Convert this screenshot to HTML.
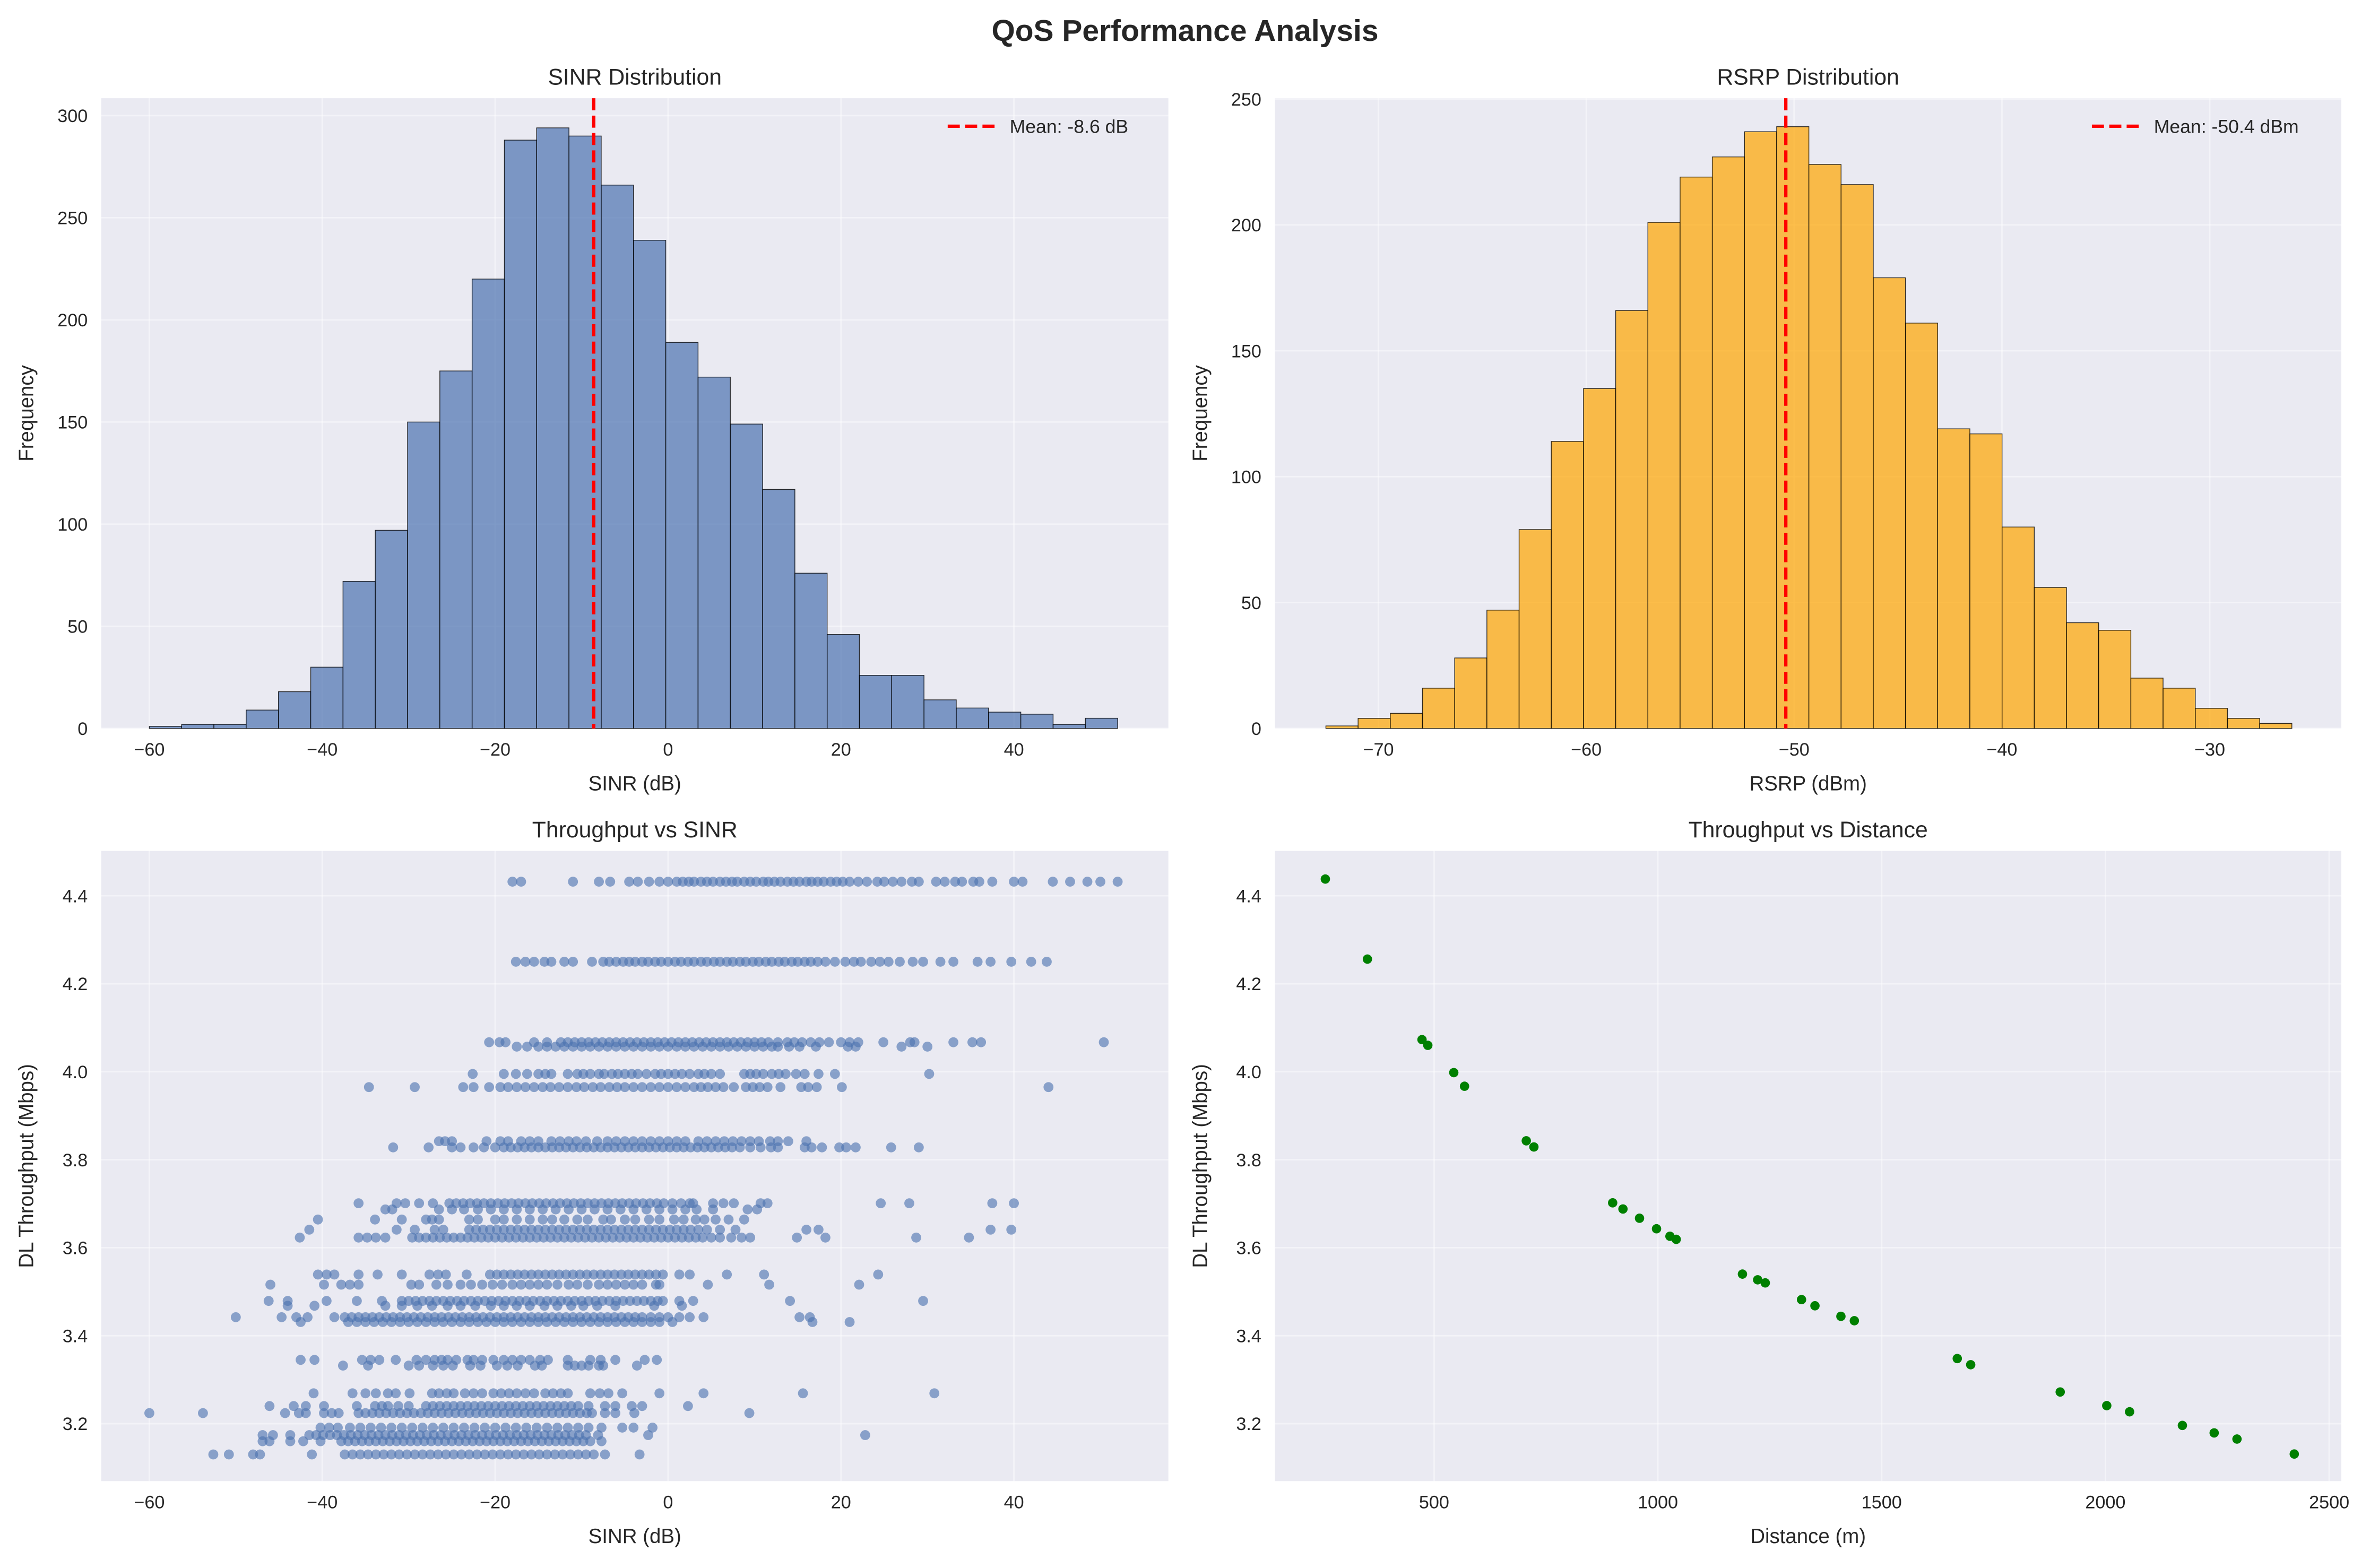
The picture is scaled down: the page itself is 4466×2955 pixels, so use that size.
<!DOCTYPE html>
<html><head><meta charset="utf-8"><style>
html,body{margin:0;padding:0;background:#fff}
svg{display:block;font-family:"Liberation Sans",Arial,sans-serif}
</style></head><body>
<svg id="fig" xmlns="http://www.w3.org/2000/svg" width="4466" height="2955" viewBox="0 0 1568 1037.5">
<rect width="1568" height="1037.5" fill="#fff"/>
<text x="784" y="27" text-anchor="middle" font-size="20" font-weight="bold" fill="#262626">QoS Performance Analysis</text>
</svg>
<script>
// ---- data ----
const sinrCounts = [1,2,2,9,18,30,72,97,150,175,220,288,294,290,266,239,189,172,149,117,76,46,26,26,14,10,8,7,2,5];
const sinrRange = [-60, 52];
const sinrMean = -8.6;
const rsrpCounts = [1,4,6,16,28,47,79,114,135,166,201,219,227,237,239,224,216,179,161,119,117,80,56,42,39,20,16,8,4,2];
const rsrpRange = [-72.53, -26.05];
const rsrpMean = -50.4;
const distVals = [257,351,473,486,544,568,706,723,899,922,959,997,1027,1041,1189,1223,1240,1321,1351,1409,1439,1669,1699,1899,2003,2054,2172,2243,2294,2422];
const distTput = [4.438,4.256,4.073,4.060,3.998,3.967,3.843,3.829,3.702,3.688,3.667,3.643,3.626,3.619,3.540,3.527,3.520,3.482,3.468,3.444,3.434,3.348,3.334,3.272,3.241,3.227,3.196,3.179,3.165,3.131];
const tputLevels = [4.432,4.250,4.067,4.057,3.995,3.965,3.842,3.828,3.701,3.687,3.664,3.641,3.623,3.539,3.516,3.479,3.468,3.442,3.431,3.345,3.332,3.269,3.240,3.224,3.191,3.174,3.160,3.130];
const sinrByLevel = [
[-18,-17,-11,-8,-6.7,-4.5,-3.5,-2.2,-1,0,1,1.7,2.4,3,3.8,4.5,5.2,6,6.7,7.4,8,8.8,9.5,10.2,11,11.6,12.3,13,13.8,14.5,15.2,16,16.6,17.3,18,18.8,19.5,20.2,21,22,23,24.2,25,26,27,28.2,29,31,32,33.2,34,35.3,36,37.5,40,41,44.5,46.5,48.5,50,52],
[-17.6,-16.5,-15.5,-14.3,-13.5,-12,-11,-8.8,-7.5,-6.8,-6,-5.2,-4.5,-3.8,-3,-2.3,-1.5,-0.8,0,0.8,1.5,2.3,3,3.8,4.5,5.3,6,6.8,7.5,8.3,9,9.8,10.5,11.3,12,12.8,13.5,14.3,15,15.8,16.5,17.3,18.2,19.3,20.5,21.5,22.3,23.5,24.5,25.5,26.8,28.3,29.5,31.5,33,35.8,37.3,39.7,42,43.8],
[-20.7,-19.5,-18.8,-15.5,-14,-12.4,-11.6,-10.8,-10,-9.2,-8.4,-7.6,-6.8,-6,-5.2,-4.4,-3.6,-2.8,-2,-1.2,-0.4,0.4,1.2,2,2.8,3.6,4.4,5.2,6,6.8,7.6,8.4,9.2,10,10.8,11.6,12.7,13.8,14.6,15.5,16.5,17.5,18.6,20,21,22,24.9,28,28.5,33,35.2,36.2,50.4],
[-17.5,-16.3,-15,-14,-13,-12,-11,-10,-9,-8,-7,-6,-5,-4,-3,-2,-1,0,1,2,3,4,5,6,7,8,9,10,11,12,12.7,14,15.2,17.1,20.8,21.7,27,30],
[-22.6,-19,-17.6,-16.3,-15,-14.2,-13.5,-11.6,-10.5,-9.8,-9,-8,-7.4,-6.5,-5.8,-5,-4.2,-3.5,-2.5,-1.5,-0.8,0,0.8,1.6,2.5,3.5,4.2,5,6,8.8,9.5,10.2,11,12,12.8,13.6,14.8,15.8,17.4,19.3,30.2],
[-34.6,-29.3,-23.7,-22.5,-20.7,-19.4,-18.5,-17.5,-16.5,-15.5,-14.5,-13.6,-12.6,-11.6,-10.6,-9.7,-8.7,-7.8,-6.8,-5.9,-5,-4,-3,-2,-1,0,1,2,3,3.8,4.6,5.5,6.4,7.6,9,9.8,10.6,11.5,13,15.4,16.2,17.2,20.1,44],
[-26.5,-25.8,-25,-21,-19.4,-18.5,-17,-16,-15,-13.5,-12.5,-11.5,-10.6,-9.5,-8.2,-7,-6,-5,-4,-3,-2,-1,0,1,2,3.5,4.5,5.5,6.5,7.5,8.5,9.5,10.5,11.8,12.7,13.9,16],
[-31.8,-27.7,-25,-24,-22.5,-21.3,-20,-19,-18.2,-17.4,-16.6,-15.8,-15,-14.2,-13.4,-12.6,-11.8,-11,-10.2,-9.4,-8.6,-7.8,-7,-6.2,-5.4,-4.6,-3.8,-3,-2.2,-1.4,-0.6,0.2,1,1.8,2.6,3.4,4.2,5,5.8,6.6,7.4,8.3,9.5,10.7,11.9,12.7,15.8,16.6,17.8,19.8,20.6,21.7,25.8,29],
[-35.8,-31.4,-30.4,-28.8,-27.2,-25.3,-24.5,-23.7,-22.9,-22.1,-21.3,-20.5,-19.7,-18.9,-18.1,-17.3,-16.5,-15.7,-14.9,-14.1,-13.3,-12.5,-11.7,-10.9,-10.1,-9.3,-8.5,-7.7,-6.9,-6.1,-5.3,-4.5,-3.7,-2.9,-2.1,-1.3,-0.5,0.5,1.5,2.5,2.9,5.2,6.4,7.6,10.7,11.5,24.6,27.9,37.5,40],
[-32.7,-31.9,-26.5,-25,-23.6,-22,-20.5,-19,-17.5,-16,-14.5,-13,-11.5,-10,-8.5,-7,-5.5,-4,-2.5,-1,0.5,2,3.3,5.2,9.2,10.3],
[-40.5,-33.9,-30.8,-28,-27.3,-26.5,-23,-22,-20,-19,-17.5,-16,-14.5,-13.4,-12,-10.5,-9.3,-7.5,-6.6,-5,-3.8,-2.2,-1,0.7,1.8,3.2,4.2,5.5,7,8.8],
[-41.5,-31.4,-29.3,-27,-26,-23,-22.2,-21.4,-20.6,-19.8,-19,-18.2,-17.4,-16.6,-15.8,-15,-14.2,-13.4,-12.6,-11.8,-11,-10.2,-9.4,-8.6,-7.8,-7,-6.2,-5.4,-4.6,-3.8,-3,-2.2,-1.4,-0.6,0.2,1,1.8,2.6,3.5,4.5,6,7.8,16,17.4,37.3,39.7],
[-42.6,-35.8,-34.8,-33.8,-32.7,-29.6,-28.8,-28,-27.2,-26.4,-25.6,-24.8,-24,-23.2,-22.4,-21.6,-20.8,-20,-19.2,-18.4,-17.6,-16.8,-16,-15.2,-14.4,-13.6,-12.8,-12,-11.2,-10.4,-9.6,-8.8,-8,-7.2,-6.4,-5.6,-4.8,-4,-3.2,-2.4,-1.6,-0.8,0,0.8,1.6,2.4,3.2,4,5,6,7.3,8.5,9.5,14.9,18.2,28.7,34.8],
[-40.5,-39.5,-38.6,-35.8,-33.6,-30.8,-27.6,-26.6,-25.7,-23.3,-20.6,-19.8,-19,-18.2,-17.4,-16.6,-15.8,-15,-14.2,-13.4,-12.6,-11.8,-11,-10.2,-9.4,-8.6,-7.8,-7,-6.2,-5.4,-4.6,-3.8,-3,-2.2,-1.4,-0.6,1.3,2.5,6.8,11.1,24.3],
[-46,-39.8,-37.8,-36.8,-35.8,-29.7,-28.8,-26.8,-25.5,-24,-22.8,-21.5,-20.3,-19.2,-18,-17,-16,-15,-14,-12.8,-11.5,-10.5,-9.3,-8,-7,-6,-5,-4,-3,-1.4,-1,4.6,11.7,22.1],
[-46.2,-44,-39.5,-36,-33.1,-30.8,-30,-29.2,-28.4,-27.6,-26.8,-26,-25.2,-24.4,-23.6,-22.8,-22,-21.2,-20.4,-19.6,-18.8,-18,-17.2,-16.4,-15.6,-14.8,-14,-13.2,-12.4,-11.6,-10.8,-10,-9.2,-8.4,-7.6,-6.8,-6,-5.2,-4.4,-3.6,-2.8,-2,-1.2,-0.6,1.3,2.9,14.1,29.5],
[-44,-40.9,-32.7,-30.8,-29,-27.3,-25.5,-24,-22.3,-20.5,-19,-17.5,-16,-14.3,-12.8,-11.2,-9.8,-8.2,-6.1,-1.6,1.6],
[-50,-44.7,-43,-41.7,-38.6,-37.4,-36.6,-35.8,-35,-34.2,-33.4,-32.6,-31.8,-31,-30.2,-29.4,-28.6,-27.8,-27,-26.2,-25.4,-24.6,-23.8,-23,-22.2,-21.4,-20.6,-19.8,-19,-18.2,-17.4,-16.6,-15.8,-15,-14.2,-13.4,-12.6,-11.8,-11,-10.2,-9.4,-8.6,-7.8,-7,-6.2,-5.4,-4.6,-3.8,-3,-2,-1,0,1.3,2.5,4.1,15.2,16.4],
[-42.5,-37,-36,-35,-34,-33,-32,-31,-30,-29,-28,-27,-26,-25,-24,-23,-22,-21,-20,-19,-18,-17,-16,-15,-14,-13,-12,-11,-10,-9,-8,-7,-6,-5,-4,-3,-2,-1,0.5,16.7,21],
[-42.5,-40.9,-35.4,-34.4,-33.4,-31.5,-29.1,-28,-27,-26.2,-25.5,-24.5,-23.2,-22.5,-21.5,-20.2,-19,-18,-17,-16,-14.8,-13.9,-11.6,-9,-7.8,-6.1,-2.7,-1.3],
[-37.6,-34.7,-30,-28.8,-27.2,-26,-24.9,-22.9,-21.7,-19.8,-18.6,-17.4,-15.4,-14.6,-11.6,-10.8,-10,-9.2,-8,-7.5,-3.6],
[-41,-36.5,-35,-33.8,-32.4,-31.5,-29.9,-27.3,-26.5,-25.6,-24.8,-23.5,-22.5,-21.5,-20.2,-19.3,-18.4,-17.5,-16.5,-15.5,-14.2,-13.3,-12.4,-11.6,-9,-7.9,-6.9,-5.3,-1,4.1,15.6,30.8],
[-46.1,-43.3,-41.9,-39.8,-36,-33.9,-33.1,-32.4,-31.2,-30,-28,-27.2,-26.4,-25.6,-24.8,-24,-23.2,-22.4,-21.6,-20.8,-20,-19.2,-18.4,-17.6,-16.8,-16,-15.2,-14.4,-13.6,-12.8,-12,-11.2,-10.4,-9.2,-7.3,-6.1,-4.2,-3,2.3],
[-60,-53.8,-44.3,-42.7,-41.9,-39.8,-38.9,-38.1,-35.8,-35,-34.2,-33.4,-32.6,-31.8,-31,-30.2,-29.4,-28.6,-27.8,-27,-26.2,-25.4,-24.6,-23.8,-23,-22.2,-21.4,-20.6,-19.8,-19,-18.2,-17.4,-16.6,-15.8,-15,-14.2,-13.4,-12.6,-11.8,-11,-10.2,-9.4,-8.8,-7.3,-6.1,-3.9,9.4],
[-40.2,-39.2,-38.2,-36.8,-35.6,-34.4,-33.2,-32,-30.8,-29.6,-28.4,-27.2,-26,-24.8,-23.6,-22.4,-21.2,-20,-18.8,-17.6,-16.4,-15.2,-14,-12.8,-11.6,-10.4,-9.2,-7.7,-5.3,-4,-1.8],
[-46.9,-45.7,-43.7,-41.5,-40.7,-39.9,-39.1,-38.3,-37.5,-36.7,-35.9,-35.1,-34.3,-33.5,-32.7,-31.9,-31.1,-30.3,-29.5,-28.7,-27.9,-27.1,-26.3,-25.5,-24.7,-23.9,-23.1,-22.3,-21.5,-20.7,-19.9,-19.1,-18.3,-17.5,-16.7,-15.9,-15.1,-14.3,-13.5,-12.7,-11.9,-11.1,-10.3,-9.5,-8.1,-2.3,22.8],
[-46.9,-46.1,-43.7,-42.2,-40.2,-37.8,-37,-36.2,-35.4,-34.6,-33.8,-33,-32.2,-31.4,-30.6,-29.8,-29,-28.2,-27.4,-26.6,-25.8,-25,-24.2,-23.4,-22.6,-21.8,-21,-20.2,-19.4,-18.6,-17.8,-17,-16.2,-15.4,-14.6,-13.8,-13,-12.2,-11.4,-10.6,-9.8,-9,-7.7],
[-52.6,-50.8,-48,-47.2,-41.2,-37.4,-36.5,-35.6,-34.7,-33.8,-32.9,-32,-31.1,-30.2,-29.3,-28.4,-27.5,-26.6,-25.7,-24.8,-23.9,-23,-22.1,-21.2,-20.3,-19.4,-18.5,-17.6,-16.7,-15.8,-14.9,-14,-13.1,-12.2,-11.3,-10.4,-9.5,-8.6,-7.3,-3.3]
];
const sinrTicks = [-60,-40,-20,0,20,40];
const sinrCountTicks = [0,50,100,150,200,250,300];
const rsrpTicks = [-70,-60,-50,-40,-30];
const rsrpCountTicks = [0,50,100,150,200,250];
const tputTicks = [3.2,3.4,3.6,3.8,4.0,4.2,4.4];
const distTicks = [500,1000,1500,2000,2500];

const NS = "http://www.w3.org/2000/svg";
const svg = document.getElementById('fig');
function el(tag, attrs, parent, text){
  const e = document.createElementNS(NS, tag);
  for (const k in attrs) e.setAttribute(k, attrs[k]);
  if (text !== undefined) e.textContent = text;
  (parent||svg).appendChild(e);
  return e;
}
function lin(d0,d1,r0,r1){ return v => r0 + (v-d0)*(r1-r0)/(d1-d0); }
function fmt(v, dec){ const s = dec ? v.toFixed(dec) : String(Math.round(v)); return s.replace('-','\u2212'); }

function makeAxes(name, box, xs, ys, xt, yt, title, xlabel, ylabel, ydec){
  const g = el('g', {});
  
  
  const bg = el('rect', {x:box.x0, y:box.y0, width:box.x1-box.x0, height:box.y1-box.y0, fill:'#eaeaf2'}, g);
  
  
  xt.forEach(t => {
    const x = xs(t);
    const gl = el('line', {x1:x, x2:x, y1:box.y0, y2:box.y1, stroke:'#fff', 'stroke-width':1, 'stroke-opacity':0.45}, g);
    
    
    const tl = el('text', {x:x, y:box.y1+18, 'text-anchor':'middle', 'font-size':12, fill:'#262626'}, g, fmt(t));
    
    
  });
  yt.forEach(t => {
    const y = ys(t);
    const gl = el('line', {x1:box.x0, x2:box.x1, y1:y, y2:y, stroke:'#fff', 'stroke-width':1, 'stroke-opacity':0.45}, g);
    
    
    const tl = el('text', {x:box.x0-9, y:y+4.3, 'text-anchor':'end', 'font-size':12, fill:'#262626'}, g, fmt(t, ydec));
    
    
  });
  const tt = el('text', {x:(box.x0+box.x1)/2, y:box.y0-9, 'text-anchor':'middle', 'font-size':15, fill:'#262626'}, g, title);
  
  
  const xl = el('text', {x:(box.x0+box.x1)/2, y:box.y1+41, 'text-anchor':'middle', 'font-size':13.5, fill:'#262626'}, g, xlabel);
  
  
  const cy = (box.y0+box.y1)/2, cx = box.x0-45;
  const yl = el('text', {x:cx, y:cy, 'text-anchor':'middle', 'font-size':13.5, fill:'#262626', transform:`rotate(-90 ${cx} ${cy})`}, g, ylabel);
  
  
  const plot = el('g', {}, g);
  
  
  return plot;
}

function hist(name, box, counts, range, mean, color, xs, ys, xt, yt, title, xlabel, legendText, legendX){
  const p = makeAxes(name, box, xs, ys, xt, yt, title, xlabel, 'Frequency', 0);
  const w = (range[1]-range[0])/counts.length;
  counts.forEach((c,i) => {
    const x0 = xs(range[0]+i*w), x1 = xs(range[0]+(i+1)*w);
    const r = el('rect', {x:x0, y:ys(c), width:x1-x0, height:ys(0)-ys(c), fill:color, 'fill-opacity':0.7, stroke:'#000', 'stroke-width':0.5, 'stroke-opacity':0.8}, p);
    
    
  });
  const mx = xs(mean);
  const ml = el('line', {x1:mx, x2:mx, y1:box.y0, y2:box.y1, stroke:'#ff0000', 'stroke-width':2.2, 'stroke-dasharray':'8 3.5'}, p);
  
  
  const lg = el('g', {}, p);
  
  
  el('line', {x1:legendX, x2:legendX+33, y1:box.y0+18.5, y2:box.y0+18.5, stroke:'#ff0000', 'stroke-width':2.2, 'stroke-dasharray':'8 3.5'}, lg);
  el('text', {x:legendX+41, y:box.y0+23, 'font-size':12.5, fill:'#262626'}, lg, legendText);
}

// Top-left
{
  const box = {x0:67, x1:773, y0:65, y1:482};
  const xs = lin(0,40,442,670.8), ys = lin(0,300,482,76.5);
  hist('sinr-histogram', box, sinrCounts, sinrRange, sinrMean, '#4c72b0', xs, ys, sinrTicks, sinrCountTicks, 'SINR Distribution', 'SINR (dB)', 'Mean: -8.6 dB', 627);
}
// Top-right
{
  const box = {x0:843.5, x1:1549, y0:65, y1:482};
  const xs = lin(-50,-30,1187,1462), ys = lin(0,250,482,65.5);
  hist('rsrp-histogram', box, rsrpCounts, rsrpRange, rsrpMean, '#ffa500', xs, ys, rsrpTicks, rsrpCountTicks, 'RSRP Distribution', 'RSRP (dBm)', 'Mean: -50.4 dBm', 1384);
}
// Bottom-left
{
  const box = {x0:67, x1:773, y0:563, y1:980};
  const xs = lin(0,40,442,670.8), ys = lin(3.2,4.4,942,592.7);
  const p = makeAxes('throughput-vs-sinr', box, xs, ys, sinrTicks, tputTicks, 'Throughput vs SINR', 'SINR (dB)', 'DL Throughput (Mbps)', 1);
  tputLevels.forEach((lv,i) => {
    sinrByLevel[i].forEach(s => {
      const c = el('circle', {cx:xs(s), cy:ys(lv), r:3.3, fill:'#4c72b0', 'fill-opacity':0.62}, p);
      
      
    });
  });
}
// Bottom-right
{
  const box = {x0:843.5, x1:1549, y0:563, y1:980};
  const xs = lin(500,2500,948.8,1541), ys = lin(3.2,4.4,942,592.7);
  const p = makeAxes('throughput-vs-distance', box, xs, ys, distTicks, tputTicks, 'Throughput vs Distance', 'Distance (m)', 'DL Throughput (Mbps)', 1);
  distVals.forEach((d,i) => {
    const c = el('circle', {cx:xs(d), cy:ys(distTput[i]), r:3.1, fill:'#008000'}, p);
    
    
  });
}
</script>
</body></html>
